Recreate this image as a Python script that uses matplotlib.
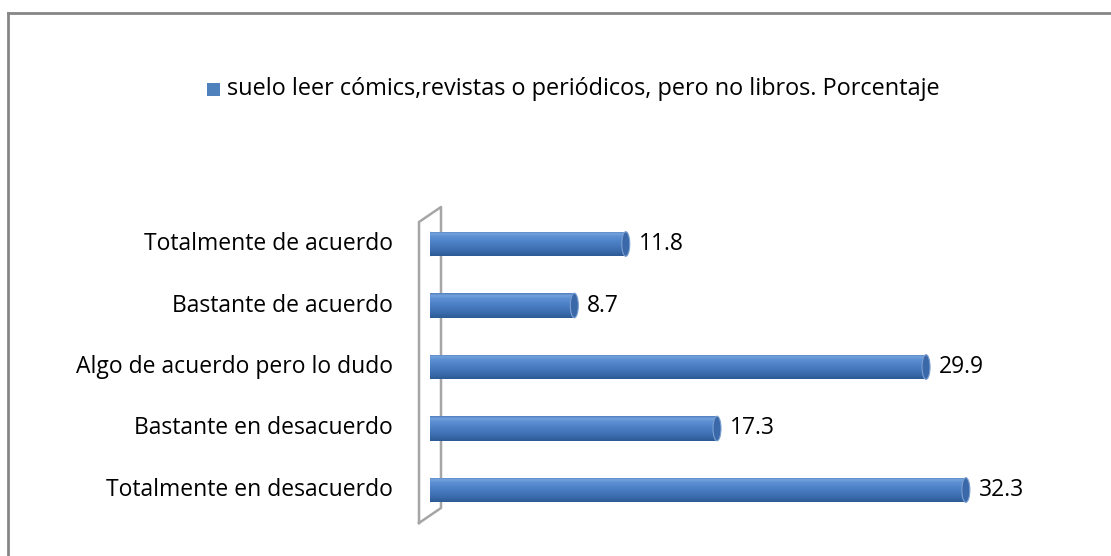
import numpy as np
import matplotlib
matplotlib.use("Agg")
import matplotlib.pyplot as plt
from matplotlib.patches import Rectangle, Ellipse
from matplotlib.lines import Line2D
from matplotlib.colors import LinearSegmentedColormap

categories = ["Totalmente en desacuerdo", "Bastante en desacuerdo",
              "Algo de acuerdo pero lo dudo", "Bastante de acuerdo",
              "Totalmente de acuerdo"]
values = [32.3, 17.3, 29.9, 8.7, 11.8]
series_name = "suelo leer cómics,revistas o periódicos, pero no libros. Porcentaje"

plt.rcParams['font.family'] = ['Open Sans', 'DejaVu Sans']
FS = 16.5

W, H = 1111, 556
fig = plt.figure(figsize=(W / 100, H / 100), dpi=100)

# frame
fig.add_artist(Line2D([8 / W, 8 / W], [0, 1 - 13 / H], transform=fig.transFigure, color='#868686', lw=2))
fig.add_artist(Line2D([8 / W, 1], [1 - 13 / H, 1 - 13 / H], transform=fig.transFigure, color='#868686', lw=2))

# back wall (3D)
wx = [419, 419, 441, 441, 419]
wy = [523, 222, 207, 508, 523]
fig.add_artist(Line2D([x / W for x in wx], [1 - y / H for y in wy], transform=fig.transFigure,
                      color='#a6a6a6', lw=1.8, zorder=0))

scale = 16.59
x0 = 430
xmax = 38
spacing = 61.5
ybot = 490 + spacing / 2
ytop = 244 - spacing / 2
ax = fig.add_axes([x0 / W, 1 - ybot / H, xmax * scale / W, (ybot - ytop) / H])
ax.set_xlim(0, xmax)
ax.set_ylim(-0.5, 4.5)
ax.axis('off')

cmap = LinearSegmentedColormap.from_list('cyl', [
    (0.0, '#2c5a94'), (0.25, '#3d6eb0'), (0.55, '#4c80c6'),
    (0.8, '#5f92d4'), (0.9, '#76a2dc'), (1.0, '#4d7ec0')])
grad = np.linspace(0, 1, 256).reshape(-1, 1)

bh = 0.40
capw = 8 / scale
for i, v in enumerate(values):
    y = i
    # left cap
    el = Ellipse((0, y), capw, bh, facecolor='#4070b2', edgecolor='none', zorder=2)
    ax.add_patch(el)
    rect = Rectangle((0, y - bh / 2), v, bh, facecolor='none', edgecolor='none')
    ax.add_patch(rect)
    im = ax.imshow(grad, extent=[0, v, y - bh / 2, y + bh / 2], origin='lower',
                   cmap=cmap, aspect='auto', zorder=3, interpolation='bilinear')
    im.set_clip_path(rect)
    # right cap
    cap = Ellipse((v, y), capw, bh, facecolor='#3a68a8', edgecolor='#7b9fd0', lw=0.8, zorder=4)
    ax.add_patch(cap)
    ax.text(v + capw / 2 + 9 / scale, y, f"{v:.1f}", va='center', ha='left',
            fontsize=FS, color='black')
    ax.text(-37 / scale, y, categories[i], va='center', ha='right', fontsize=FS, color='black')

ax.set_xlim(0, xmax)
ax.set_ylim(-0.5, 4.5)

# legend
fig.add_artist(Rectangle((207 / W, 1 - 96 / H), 13 / W, 13 / H, transform=fig.transFigure,
                         facecolor='#4f81bd', edgecolor='none'))
fig.text(227 / W, 1 - 89 / H, series_name, va='center', ha='left', fontsize=16.9, color='black')

fig.savefig('out.png', dpi=100)
